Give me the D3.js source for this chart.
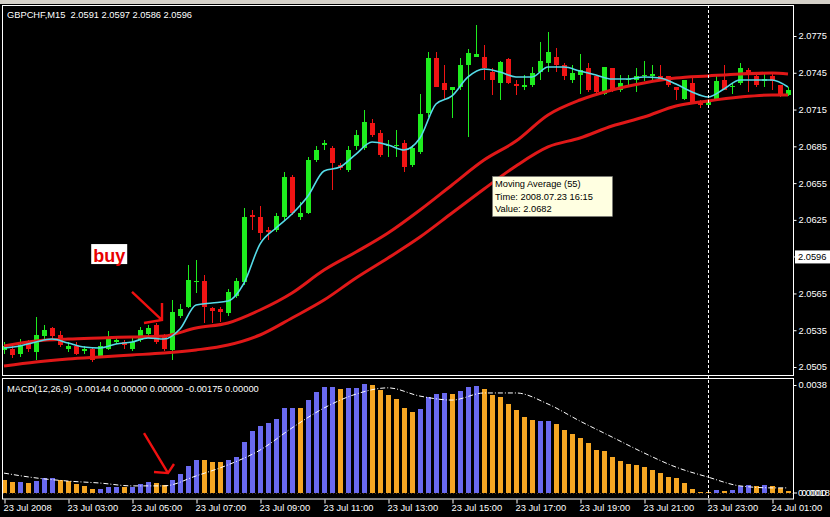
<!DOCTYPE html>
<html><head><meta charset="utf-8">
<script src="https://cdn.jsdelivr.net/npm/d3@7/dist/d3.min.js"></script>
<style>
html,body{margin:0;padding:0;background:#000;overflow:hidden}
svg{display:block}
text{font-family:"Liberation Sans",Arial,sans-serif;white-space:pre}
</style></head><body>
<svg id="c" width="830" height="517"></svg>
<script>
// ---------- DATA ----------
const symbolTitle = "GBPCHF,M15  2.0591 2.0597 2.0586 2.0596";
const macdTitle = "MACD(12,26,9) -0.00144 0.00000 0.00000 -0.00175 0.00000";
const firstBar = "2008-07-23 01:00";
const barMinutes = 15;

const open = [2.0519,2.0520,2.0516,2.0525,2.0517,2.0530,2.0537,2.0531,2.0520,2.0522,
2.0518,2.0520,2.0513,2.0520,2.0525,2.0525,2.0520,2.0527,2.0532,2.0539,
2.0530,2.0519,2.0547,2.0554,2.0574,2.0575,2.0553,2.0552,2.0549,2.0563,
2.0574,2.0629,2.0627,2.0617,2.0617,2.0627,2.0660,2.0627,2.0631,2.0674,
2.0686,2.0684,2.0670,2.0666,2.0685,2.0684,2.0704,2.0696,2.0685,2.0685,
2.0688,2.0670,2.0680,2.0712,2.0757,2.0737,2.0731,2.0733,2.0751,2.0758,
2.0758,2.0746,2.0737,2.0756,2.0736,2.0733,2.0735,2.0746,2.0753,2.0758,
2.0751,2.0739,2.0743,2.0749,2.0742,2.0728,2.0749,2.0731,2.0739,2.0739,
2.0743,2.0742,2.0742,2.0742,2.0733,2.0724,2.0737,2.0721,2.0719,2.0724,
2.0739,2.0733,2.0737,2.0747,2.0742,2.0738,2.0742,2.0735,2.0727];
const high = [2.0525,2.0523,2.0528,2.0527,2.0546,2.0539,2.0538,2.0534,2.0525,2.0525,
2.0522,2.0521,2.0525,2.0534,2.0530,2.0527,2.0529,2.0538,2.0539,2.0541,
2.0532,2.0560,2.0556,2.0588,2.0592,2.0580,2.0554,2.0554,2.0569,2.0578,
2.0635,2.0633,2.0636,2.0619,2.0631,2.0664,2.0662,2.0640,2.0676,2.0685,
2.0690,2.0685,2.0671,2.0685,2.0698,2.0715,2.0707,2.0698,2.0690,2.0698,
2.0690,2.0686,2.0728,2.0762,2.0762,2.0751,2.0733,2.0757,2.0764,2.0784,
2.0768,2.0749,2.0755,2.0757,2.0739,2.0743,2.0750,2.0770,2.0778,2.0765,
2.0753,2.0751,2.0760,2.0753,2.0742,2.0750,2.0749,2.0743,2.0743,2.0749,
2.0755,2.0751,2.0751,2.0742,2.0733,2.0739,2.0741,2.0723,2.0724,2.0743,
2.0751,2.0737,2.0753,2.0749,2.0745,2.0746,2.0745,2.0735,2.0733];
const low = [2.0516,2.0512,2.0513,2.0517,2.0511,2.0527,2.0528,2.0521,2.0517,2.0515,
2.0516,2.0509,2.0512,2.0519,2.0524,2.0520,2.0518,2.0525,2.0530,2.0524,
2.0518,2.0511,2.0545,2.0553,2.0565,2.0541,2.0541,2.0542,2.0547,2.0561,
2.0572,2.0617,2.0609,2.0609,2.0615,2.0625,2.0629,2.0625,2.0630,2.0672,
2.0682,2.0649,2.0666,2.0664,2.0682,2.0682,2.0693,2.0676,2.0676,2.0676,
2.0664,2.0668,2.0679,2.0709,2.0733,2.0723,2.0708,2.0731,2.0693,2.0758,
2.0739,2.0727,2.0723,2.0736,2.0727,2.0731,2.0733,2.0739,2.0746,2.0746,
2.0739,2.0737,2.0728,2.0729,2.0727,2.0727,2.0729,2.0729,2.0733,2.0729,
2.0738,2.0739,2.0738,2.0733,2.0723,2.0723,2.0720,2.0716,2.0717,2.0723,
2.0731,2.0728,2.0735,2.0729,2.0733,2.0733,2.0731,2.0725,2.0726];
const close = [2.0522,2.0515,2.0523,2.0520,2.0531,2.0535,2.0530,2.0523,2.0522,2.0516,
2.0520,2.0511,2.0522,2.0528,2.0527,2.0523,2.0525,2.0535,2.0537,2.0525,
2.0520,2.0550,2.0552,2.0576,2.0575,2.0554,2.0551,2.0550,2.0566,2.0575,
2.0627,2.0627,2.0614,2.0615,2.0628,2.0660,2.0631,2.0631,2.0674,2.0682,
2.0688,2.0671,2.0667,2.0682,2.0694,2.0705,2.0694,2.0678,2.0686,2.0686,
2.0668,2.0684,2.0711,2.0757,2.0733,2.0731,2.0733,2.0751,2.0761,2.0760,
2.0749,2.0739,2.0754,2.0737,2.0734,2.0735,2.0745,2.0755,2.0762,2.0751,
2.0742,2.0745,2.0747,2.0731,2.0729,2.0750,2.0731,2.0737,2.0740,2.0742,
2.0743,2.0744,2.0739,2.0735,2.0731,2.0739,2.0721,2.0719,2.0723,2.0738,
2.0731,2.0734,2.0749,2.0743,2.0735,2.0740,2.0738,2.0727,2.0731];

// fast MA (cyan), read at every 2nd bar
const fastMaBars = [0,2,4,6,8,10,12,14,16,18,20,22,24,26,28,30,32,34,36,38,40,42,44,46,48,50,52,54,56,58,60,62,64,66,68,70,72,74,76,78,80,82,84,86,88,90,92,94,96,98];
const fastMa = [2.05205,2.05221,2.05254,2.05278,2.05246,2.05213,2.05205,2.05238,2.05254,2.05287,
2.05278,2.05360,2.05556,2.05572,2.05588,2.05735,2.06053,2.06184,2.06298,2.06445,
2.06649,2.06681,2.06787,2.06885,2.06861,2.06820,2.06918,2.07195,2.07261,2.07416,
2.07481,2.07456,2.07416,2.07416,2.07497,2.07497,2.07464,2.07432,2.07399,2.07399,
2.07416,2.07407,2.07358,2.07293,2.07252,2.07318,2.07391,2.07391,2.07391,2.07334];

// slow MAs (red), read at every 4th bar
const slowMaBars = [0,4,8,12,16,20,24,28,32,36,40,44,48,52,56,60,64,68,72,76,80,84,88,92,96,98];
const maUpper = [2.05221,2.05262,2.05278,2.05287,2.05295,2.05303,2.05368,2.05409,2.05515,2.05654,2.05841,2.05988,2.06143,2.06331,2.06535,2.06738,2.06893,2.07106,2.07228,2.07310,2.07367,2.07407,2.07424,2.07440,2.07448,2.07440];
const maLower = [2.05058,2.05091,2.05115,2.05132,2.05148,2.05164,2.05189,2.05229,2.05311,2.05450,2.05596,2.05776,2.05939,2.06110,2.06306,2.06502,2.06690,2.06845,2.06918,2.07016,2.07089,2.07179,2.07220,2.07252,2.07269,2.07269];

// MACD histogram and colour (b = blue, o = orange)
const macdHist = [0.00046,0.00039,0.00040,0.00035,0.00042,0.00053,0.00054,0.00046,0.00042,0.00032,
0.00025,0.00014,0.00015,0.00021,0.00022,0.00020,0.00022,0.00032,0.00039,0.00035,
0.00028,0.00046,0.00067,0.00095,0.00116,0.00115,0.00109,0.00108,0.00116,0.00127,
0.00179,0.00218,0.00236,0.00246,0.00260,0.00299,0.00300,0.00298,0.00327,0.00355,
0.00373,0.00374,0.00366,0.00369,0.00370,0.00384,0.00380,0.00362,0.00345,0.00331,
0.00299,0.00285,0.00296,0.00338,0.00348,0.00352,0.00348,0.00359,0.00373,0.00377,
0.00366,0.00345,0.00338,0.00313,0.00292,0.00267,0.00257,0.00254,0.00254,0.00243,
0.00222,0.00208,0.00194,0.00176,0.00151,0.00148,0.00127,0.00113,0.00102,0.00099,
0.00091,0.00081,0.00070,0.00056,0.00053,0.00035,0.00014,0.00004,0.00004,0.00011,
0.00007,0.00011,0.00025,0.00028,0.00025,0.00028,0.00025,0.00018,0.00007];
const macdColor = ("oobobbbooo"+"oobbbobbbo"+"obbbbooobb"+"bbbbbbbobb"+"bbobbboooo"+
"oobbbbobbb"+"ooooooobbo"+"oooooooooo"+"ooooooooob"+"obbbobooo").split("");
const signalBars = [0,4,8,12,16,20,24,28,32,36,40,44,48,52,56,60,64,68,72,76,80,84,88,92,96,98];
const signal = [0.00070,0.00053,0.00042,0.00035,0.00025,0.00025,0.00060,0.00099,0.00151,0.00229,0.00299,0.00348,0.00370,0.00341,0.00327,0.00352,0.00352,0.00313,0.00253,0.00197,0.00141,0.00091,0.00056,0.00025,0.00018,0.00018];

// axes
const priceTicks = [2.0775,2.0745,2.0715,2.0685,2.0655,2.0625,2.0565,2.0535,2.0505];
const currentPrice = 2.0596;
const timeTickTimes = ["2008-07-23 01:00","2008-07-23 03:00","2008-07-23 05:00","2008-07-23 07:00","2008-07-23 09:00","2008-07-23 11:00","2008-07-23 13:00","2008-07-23 15:00","2008-07-23 17:00","2008-07-23 19:00","2008-07-23 21:00","2008-07-23 23:00","2008-07-24 01:00"];
const timeTickLabels = ["23 Jul 2008","23 Jul 03:00","23 Jul 05:00","23 Jul 07:00","23 Jul 09:00","23 Jul 11:00","23 Jul 13:00","23 Jul 15:00","23 Jul 17:00","23 Jul 19:00","23 Jul 21:00","23 Jul 23:00","24 Jul 01:00"];
const macdTopTick = 0.0038;
const macdBottomLabels = ["0.0000","0.0018"];

// annotations
const cursorTime = "2008-07-23 23:00";
const tooltipLines = ["Moving Average (55)","Time: 2008.07.23 16:15","Value: 2.0682"];
const tooltipTime = "2008-07-23 16:15", tooltipValue = 2.0682;
const buyText = "buy", buyBar = 13.4, buyPrice = 2.05906;
const priceArrow = {from:[16,2.05662], tip:[19.75,2.05433], h1:[17.5,2.05409], h2:[19.75,2.05572]};
const macdArrow = {from:[17.5,0.00211], tip:[20.5,0.00070], h1:[18.75,0.00074], h2:[21.25,0.00102]};

// ---------- DRAW ----------
const parse = d3.timeParse("%Y-%m-%d %H:%M");
const t0 = parse(firstBar);
const barTime = i => d3.timeMinute.offset(t0, barMinutes * i);
const n = open.length;

const x = d3.scaleTime().domain([barTime(0), barTime(n - 1)]).range([4, 788]);
const xi = i => x(barTime(0)) + (x(barTime(1)) - x(barTime(0))) * i;
const y = d3.scaleLinear().domain([2.0505, 2.0775]).range([367, 36]);
const ym = d3.scaleLinear().domain([0, macdTopTick]).range([493, 385]);

const svg = d3.select("#c");
const W = 830, H = 517;
const fontSize = 9.3;
svg.append("rect").attr("width", W).attr("height", H).attr("fill", "#000");
svg.append("rect").attr("width", W).attr("height", 4).attr("fill", "#d4d0c8");

const defs = svg.append("defs");
defs.append("clipPath").attr("id", "cm").append("rect").attr("x", 3).attr("y", 6).attr("width", 790).attr("height", 369);
defs.append("clipPath").attr("id", "cd").append("rect").attr("x", 3).attr("y", 379).attr("width", 790).attr("height", 119);

const gm = svg.append("g").attr("clip-path", "url(#cm)");
const up = "#1eec1e", dn = "#f01414";
const idx = d3.range(n);
const candles = gm.append("g").attr("shape-rendering", "crispEdges");
candles.selectAll("line").data(idx).join("line")
  .attr("x1", i => Math.round(x(barTime(i))) + 0.5).attr("x2", i => Math.round(x(barTime(i))) + 0.5)
  .attr("y1", i => y(high[i])).attr("y2", i => y(low[i]))
  .attr("stroke", i => close[i] >= open[i] ? up : dn).attr("stroke-width", 1);
candles.selectAll("rect").data(idx).join("rect")
  .attr("x", i => Math.round(x(barTime(i))) - 2)
  .attr("width", 5)
  .attr("y", i => y(Math.max(open[i], close[i])))
  .attr("height", i => Math.max(1.2, Math.abs(y(open[i]) - y(close[i]))))
  .attr("fill", i => close[i] >= open[i] ? up : dn);

const lineGen = (bars, vals, ys) => d3.line().curve(d3.curveMonotoneX)
  .x((d, k) => x(barTime(bars[k]))).y(d => ys(d))(vals);
gm.append("path").attr("d", lineGen(slowMaBars, maUpper, y)).attr("fill", "none").attr("stroke", "#e01818").attr("stroke-width", 3);
gm.append("path").attr("d", lineGen(slowMaBars, maLower, y)).attr("fill", "none").attr("stroke", "#e01818").attr("stroke-width", 3);
gm.append("path").attr("d", lineGen(fastMaBars, fastMa, y)).attr("fill", "none").attr("stroke", "#55dbe8").attr("stroke-width", 1.6);

svg.append("text").attr("x", 7).attr("y", 18).attr("fill", "#fff").attr("font-size", fontSize).text(symbolTitle);

function drawArrow(g, a, ys) {
  const p = v => [xi(v[0]), ys(v[1])];
  const path = d3.path();
  const s = p(a.from), t = p(a.tip), h1 = p(a.h1), h2 = p(a.h2);
  path.moveTo(...s); path.lineTo(...t);
  path.moveTo(...h1); path.lineTo(...t); path.lineTo(...h2);
  g.append("path").attr("d", path.toString()).attr("fill", "none").attr("stroke", "#f01010").attr("stroke-width", 2.4);
}
drawArrow(gm, priceArrow, y);

const bx = xi(buyBar), by = y(buyPrice);
svg.append("rect").attr("x", bx - 20).attr("y", by - 18).attr("width", 36).attr("height", 20).attr("fill", "#fff");
svg.append("text").attr("x", bx - 2).attr("y", by).attr("text-anchor", "middle").attr("fill", "#e80000")
  .attr("font-size", 18).attr("font-weight", "bold").text(buyText);

const tx = x(parse(tooltipTime)), ty = y(tooltipValue) + 26;
const tip = svg.append("g");
tip.append("rect").attr("x", tx + 0.5).attr("y", ty + 0.5).attr("width", 120).attr("height", 40).attr("fill", "#ffffe1").attr("stroke", "#777").attr("stroke-width", 0.5);
tooltipLines.forEach((s, k) => tip.append("text").attr("x", tx + 3).attr("y", ty + 11 + k * 12.7).attr("fill", "#000").attr("font-size", fontSize).text(s));

const gd = svg.append("g").attr("clip-path", "url(#cd)");
gd.append("line").attr("x1", 3).attr("x2", 793).attr("y1", ym(0) + 0.5).attr("y2", ym(0) + 0.5)
  .attr("stroke", "#4a3520").attr("stroke-dasharray", "1,2");
gd.append("g").attr("shape-rendering", "crispEdges").selectAll("rect").data(idx).join("rect")
  .attr("x", i => Math.round(x(barTime(i))) - 2).attr("width", 5)
  .attr("y", i => ym(macdHist[i])).attr("height", i => ym(0) - ym(macdHist[i]))
  .attr("fill", i => macdColor[i] === "b" ? "#6a6af0" : "#f5a623");
gd.append("path").attr("d", lineGen(signalBars, signal, ym)).attr("fill", "none").attr("stroke", "#fff")
  .attr("stroke-width", 1).attr("stroke-dasharray", "5,2,1,2");
drawArrow(gd, macdArrow, ym);
svg.append("text").attr("x", 7).attr("y", 392).attr("fill", "#fff").attr("font-size", fontSize).text(macdTitle);

const cx = Math.round(x(parse(cursorTime))) + 0.5;
svg.append("line").attr("x1", cx).attr("x2", cx).attr("y1", 5).attr("y2", 499)
  .attr("stroke", "#fff").attr("stroke-dasharray", "3,2").attr("stroke-width", 1);

svg.append("rect").attr("x", 2.5).attr("y", 5.5).attr("width", 791).attr("height", 370).attr("fill", "none").attr("stroke", "#fff");
svg.append("rect").attr("x", 2.5).attr("y", 378.5).attr("width", 791).attr("height", 120.5).attr("fill", "none").attr("stroke", "#fff");

const pa = svg.append("g").attr("transform", "translate(793.5,0)")
  .call(d3.axisRight(y).tickValues(priceTicks).tickFormat(d3.format(".4f")).tickSize(3).tickPadding(2));
pa.select(".domain").remove();
pa.selectAll("line").attr("stroke", "#fff");
pa.selectAll("text").attr("fill", "#fff").attr("font-size", fontSize).attr("font-family", "Liberation Sans, Arial, sans-serif");
const cy = y(currentPrice) + 1.5;
svg.append("line").attr("x1", 793.5).attr("x2", 797).attr("y1", cy).attr("y2", cy).attr("stroke", "#fff");
svg.append("rect").attr("x", 795).attr("y", cy - 6.5).attr("width", 35).attr("height", 13).attr("fill", "#fff");
svg.append("text").attr("x", 798).attr("y", cy).attr("dy", "0.32em").attr("fill", "#000").attr("font-size", fontSize).text(d3.format(".4f")(currentPrice));

const ma = svg.append("g").attr("transform", "translate(793.5,0)")
  .call(d3.axisRight(ym).tickValues([macdTopTick]).tickFormat(d3.format(".4f")).tickSize(3).tickPadding(2));
ma.select(".domain").remove();
ma.selectAll("line").attr("stroke", "#fff");
ma.selectAll("text").attr("fill", "#fff").attr("font-size", fontSize).attr("font-family", "Liberation Sans, Arial, sans-serif");
macdBottomLabels.forEach((s, k) => svg.append("text").attr("x", 798 + k * 3.5).attr("y", ym(0)).attr("dy", "0.32em")
  .attr("fill", "#fff").attr("font-size", fontSize).text(s));
svg.append("line").attr("x1", 793.5).attr("x2", 797).attr("y1", ym(0)).attr("y2", ym(0)).attr("stroke", "#fff");

const ta = svg.append("g").attr("transform", "translate(0,499.5)")
  .call(d3.axisBottom(x).tickValues(timeTickTimes.map(parse))
    .tickFormat((d, k) => timeTickLabels[k]).tickSize(4).tickPadding(3));
ta.select(".domain").remove();
ta.selectAll(".tick line").attr("stroke", "#fff").attr("transform", "translate(0.5,0)");
ta.selectAll("text").attr("fill", "#fff").attr("font-size", fontSize).attr("text-anchor", "start")
  .attr("font-family", "Liberation Sans, Arial, sans-serif").attr("x", -1).attr("y", 5).attr("dy", "0.71em");
</script></body></html>
